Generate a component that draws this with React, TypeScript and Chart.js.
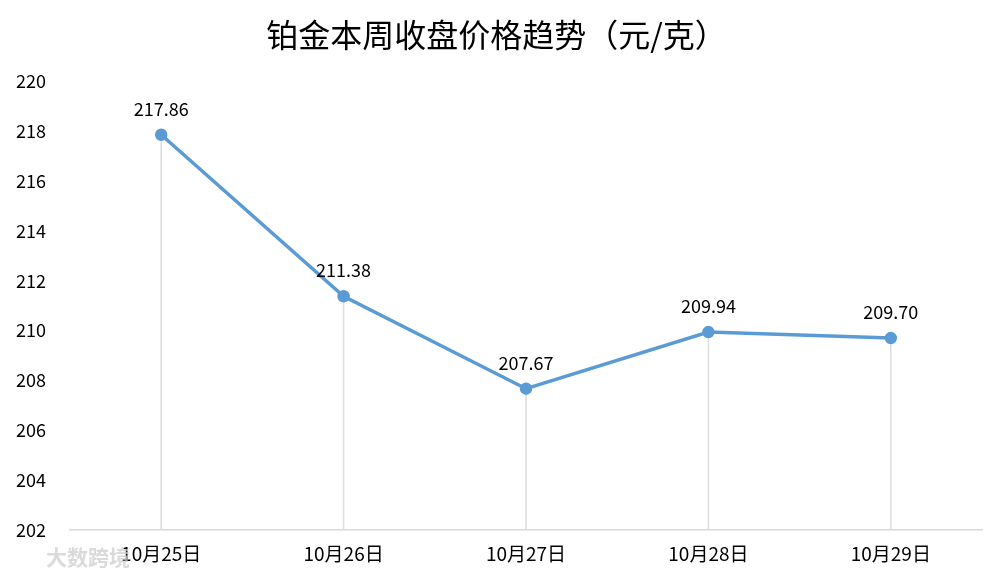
import React, { useEffect, useRef } from "react";
import { Chart, registerables } from "chart.js";

Chart.register(...registerables);

const categories = ["10月25日", "10月26日", "10月27日", "10月28日", "10月29日"];
const prices = [217.86, 211.38, 207.67, 209.94, 209.7];
const priceLabels = ["217.86", "211.38", "207.67", "209.94", "209.70"];
const yMin = 202;
const yMax = 220;
const yStep = 2;

const FONT = "'Noto Sans CJK SC', 'Noto Sans', sans-serif";

const dropLinesAndLabels = {
  id: "dropLinesAndLabels",
  beforeDatasetsDraw(chart: any) {
    const { ctx, chartArea } = chart;
    const meta = chart.getDatasetMeta(0);
    ctx.save();
    ctx.strokeStyle = "#dedede";
    ctx.lineWidth = 1.6;
    meta.data.forEach((pt: any) => {
      ctx.beginPath();
      ctx.moveTo(pt.x, pt.y);
      ctx.lineTo(pt.x, chartArea.bottom);
      ctx.stroke();
    });
    ctx.restore();
  },
  afterDatasetsDraw(chart: any) {
    const { ctx } = chart;
    const meta = chart.getDatasetMeta(0);
    ctx.save();
    ctx.fillStyle = "#000000";
    ctx.font = `18px ${FONT}`;
    ctx.textAlign = "center";
    ctx.textBaseline = "middle";
    meta.data.forEach((pt: any, i: number) => {
      ctx.fillText(priceLabels[i], pt.x, pt.y - 26);
    });
    ctx.restore();
  },
};

export default function App() {
  const ref = useRef<HTMLCanvasElement | null>(null);
  useEffect(() => {
    if (!ref.current) return;
    const chart = new Chart(ref.current, {
      type: "line",
      data: {
        labels: categories,
        datasets: [
          {
            data: prices,
            borderColor: "#5b9bd5",
            backgroundColor: "#5b9bd5",
            borderWidth: 3.5,
            pointRadius: 4.5,
            pointHoverRadius: 4.5,
            pointBackgroundColor: "#5b9bd5",
            pointBorderColor: "#5b9bd5",
            tension: 0,
          },
        ],
      },
      options: {
        animation: false,
        responsive: false,
        maintainAspectRatio: false,
        layout: { padding: { left: 11, right: 22, top: 0, bottom: 0 } },
        plugins: {
          legend: { display: false },
          tooltip: { enabled: false },
          title: {
            display: true,
            text: "铂金本周收盘价格趋势（元/克）",
            color: "#000000",
            font: { family: FONT, size: 32, weight: "normal" },
            padding: { top: 16, bottom: 27 },
          },
        },
        scales: {
          x: {
            offset: true,
            grid: { display: false, drawTicks: false },
            border: { display: true, color: "#d9d9d9", width: 1.5 },
            ticks: {
              color: "#000000",
              font: { family: FONT, size: 19 },
              padding: 12,
              maxRotation: 0,
            },
            afterFit(scale: any) {
              scale.height = 51;
            },
          },
          y: {
            min: yMin,
            max: yMax,
            grid: { display: false, drawTicks: false },
            border: { display: false },
            ticks: {
              stepSize: yStep,
              color: "#000000",
              font: { family: FONT, size: 18 },
              padding: 24,
            },
            afterFit(scale: any) {
              scale.width = 59;
            },
          },
        },
      },
      plugins: [dropLinesAndLabels],
    });
    return () => chart.destroy();
  }, []);
  return (
    <div style={{ position: "fixed", left: 0, top: 0, width: 1004, height: 581, background: "#ffffff" }}>
      <canvas ref={ref} width={1004} height={581} style={{ display: "block" }} />
      <div
        style={{
          position: "absolute",
          left: 46,
          top: 541,
          fontFamily: FONT,
          fontSize: 21,
          fontWeight: "bold",
          color: "rgba(205,205,205,0.75)",
          pointerEvents: "none",
        }}
      >
        大数跨境
      </div>
    </div>
  );
}
